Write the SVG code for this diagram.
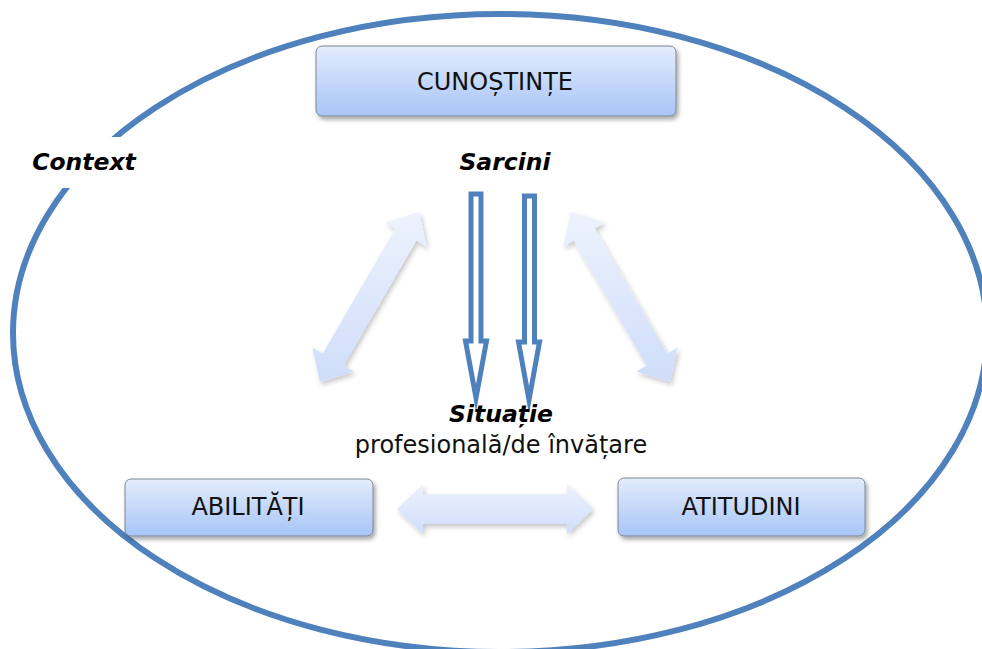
<svg xmlns="http://www.w3.org/2000/svg" width="982" height="649" viewBox="0 0 982 649">
  <defs>
    <linearGradient id="boxFill" x1="0" y1="0" x2="0" y2="1">
      <stop offset="0" stop-color="#e3ecfc"/>
      <stop offset="1" stop-color="#a7c5f7"/>
    </linearGradient>
    <linearGradient id="arrowFill" x1="0" y1="0" x2="0" y2="1">
      <stop offset="0" stop-color="#edf3fd"/>
      <stop offset="1" stop-color="#cfddfa"/>
    </linearGradient>
    <filter id="shadow" x="-20%" y="-20%" width="140%" height="150%">
      <feDropShadow dx="2" dy="3" stdDeviation="2" flood-color="#000" flood-opacity="0.35"/>
    </filter>
    <filter id="softShadow" x="-20%" y="-20%" width="140%" height="140%">
      <feDropShadow dx="2" dy="3" stdDeviation="2.5" flood-color="#000" flood-opacity="0.22"/>
    </filter>
  </defs>
  <style>
    .box { fill: url(#boxFill); stroke: #7d8894; stroke-width: 1; filter: url(#shadow); }
    .label { font-family: "DejaVu Sans", Verdana, sans-serif; font-size: 24px; fill: #111; text-anchor: middle; }
    .emph { font-family: "DejaVu Sans", Verdana, sans-serif; font-size: 23.5px; font-weight: bold; font-style: italic; fill: #000; text-anchor: middle; }
    .soft { fill: url(#arrowFill); filter: url(#softShadow); }
    .hollow { fill: #fff; stroke: #4f81bd; stroke-width: 5; stroke-linejoin: miter; stroke-miterlimit: 10; }
    .context { fill: none; stroke: #4f81bd; stroke-width: 6; }
  </style>

  <rect width="982" height="649" fill="#fff"/>

  <!-- context boundary -->
  <ellipse class="context" cx="500" cy="333" rx="487" ry="319"/>
  <g id="context-label">
    <rect x="22" y="137" width="130" height="51" fill="#fff"/>
    <text class="emph" x="84" y="170">Context</text>
  </g>

  <g id="connectors">
    <!-- two-way relations between the three components -->
    <polygon class="soft" points="419,212 426.6,246.6 416.3,240.5 343.5,365.5 353.8,371.6 320,382 312.4,347.4 322.7,353.5 395.5,228.5 385.2,222.4"/>
    <polygon class="soft" points="571,212 563.4,246.6 573.7,240.5 646.5,365.5 636.2,371.6 670,382 677.6,347.4 667.3,353.5 594.5,228.5 604.8,222.4"/>
    <polygon class="soft" points="397,509 423,484 423,494 567,494 567,484 593,509 567,534 567,524 423,524 423,534"/>
    <!-- tasks flowing into the situation -->
    <path class="hollow" d="M471,194 H481 V341 H486.5 L476,398 L465.5,341 H471 Z"/>
    <path class="hollow" d="M524.5,196 H534.5 V342 H539.5 L529,400 L518.5,342 H524.5 Z"/>
  </g>

  <g id="cunostinte">
    <rect class="box" x="316" y="46" width="360" height="70" rx="6"/>
    <text class="label" x="495" y="90">CUNOȘTINȚE</text>
  </g>

  <g id="sarcini">
    <text class="emph" x="505" y="170">Sarcini</text>
  </g>

  <g id="situatie">
    <text class="emph" x="501" y="422">Situație</text>
    <text class="label" x="501" y="453">profesională/de învățare</text>
  </g>

  <g id="abilitati">
    <rect class="box" x="125" y="479" width="248" height="57" rx="6"/>
    <text class="label" x="248" y="515">ABILITĂȚI</text>
  </g>

  <g id="atitudini">
    <rect class="box" x="618" y="478" width="247" height="58" rx="6"/>
    <text class="label" x="741" y="515">ATITUDINI</text>
  </g>
</svg>
